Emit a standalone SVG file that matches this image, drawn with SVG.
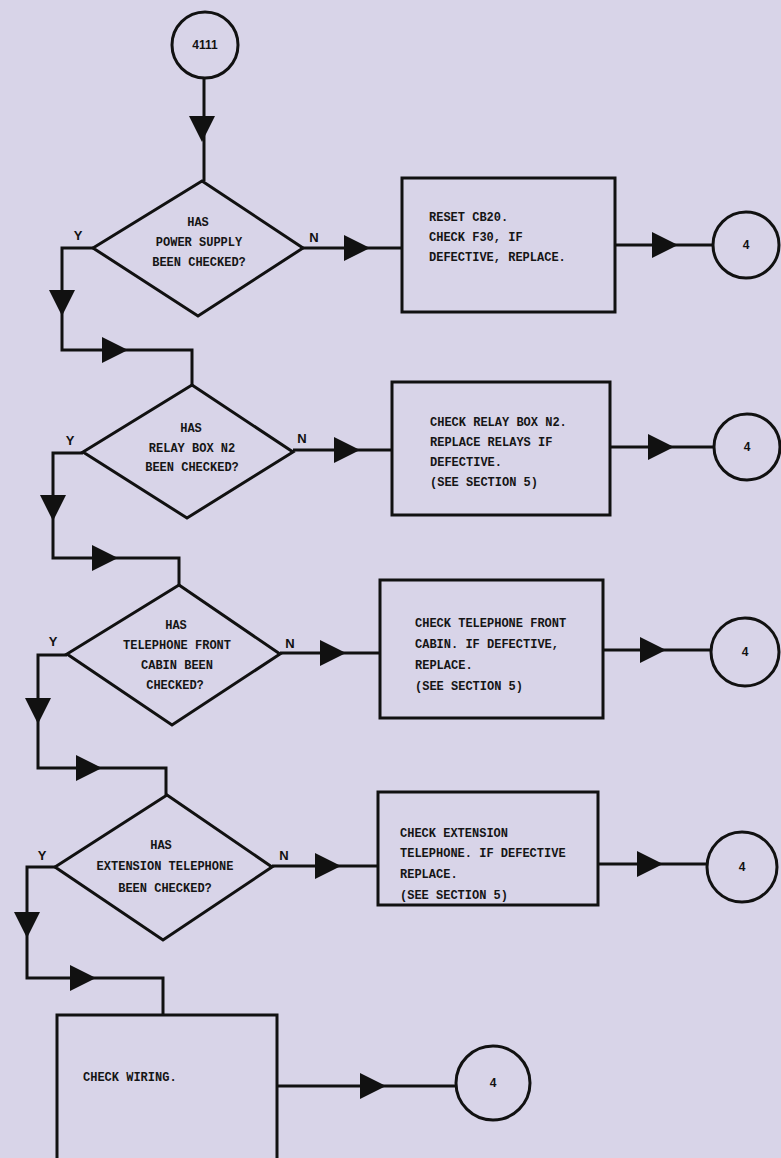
<svg xmlns="http://www.w3.org/2000/svg" xmlns:xlink="http://www.w3.org/1999/xlink" width="781" height="1158" viewBox="0 0 781 1158">
  <style>
    .bg { fill: #d8d4e8; }
    .shape { fill: none; stroke: #111; stroke-width: 3; stroke-linejoin: miter; }
    .wire { fill: none; stroke: #111; stroke-width: 3; }
    .txt { font-family: "Liberation Mono", "DejaVu Sans Mono", monospace; font-size: 12px; font-weight: bold; fill: #151515; }
    .mid { text-anchor: middle; }
    .lbl { font-family: "Liberation Sans", Arial, sans-serif; font-size: 13px; font-weight: bold; fill: #111; text-anchor: middle; }
    .num { font-family: "Liberation Sans", Arial, sans-serif; font-size: 12px; font-weight: bold; fill: #111; text-anchor: middle; }
  </style>
  <defs>
    <!-- filled arrowhead pointing right, tip at x=26 -->
    <polygon id="ar" points="0,-13 26,0 0,13" fill="#111"/>
  </defs>

  <rect class="bg" x="0" y="0" width="781" height="1158"/>

  <!-- connectors -->
  <g id="connectors">
    <!-- start to first decision -->
    <line class="wire" x1="204" y1="78" x2="204" y2="181"/>
    <use xlink:href="#ar" transform="translate(202,116) rotate(90)"/>

    <!-- decision 1 -->
    <polyline class="wire" points="93,248 62,248 62,350 192,350 192,385"/>
    <use xlink:href="#ar" transform="translate(62,290) rotate(90)"/>
    <use xlink:href="#ar" transform="translate(102,350)"/>
    <line class="wire" x1="303" y1="248" x2="402" y2="248"/>
    <use xlink:href="#ar" transform="translate(344,248)"/>
    <line class="wire" x1="615" y1="245" x2="712" y2="245"/>
    <use xlink:href="#ar" transform="translate(652,245)"/>

    <!-- decision 2 -->
    <polyline class="wire" points="83,453 53,453 53,558 179,558 179,585"/>
    <use xlink:href="#ar" transform="translate(53,495) rotate(90)"/>
    <use xlink:href="#ar" transform="translate(92,558)"/>
    <line class="wire" x1="293" y1="450" x2="392" y2="450"/>
    <use xlink:href="#ar" transform="translate(334,450)"/>
    <line class="wire" x1="610" y1="447" x2="714" y2="447"/>
    <use xlink:href="#ar" transform="translate(648,447)"/>

    <!-- decision 3 -->
    <polyline class="wire" points="67,655 38,655 38,768 166,768 166,795"/>
    <use xlink:href="#ar" transform="translate(38,698) rotate(90)"/>
    <use xlink:href="#ar" transform="translate(76,768)"/>
    <line class="wire" x1="280" y1="653" x2="380" y2="653"/>
    <use xlink:href="#ar" transform="translate(320,653)"/>
    <line class="wire" x1="603" y1="650" x2="710" y2="650"/>
    <use xlink:href="#ar" transform="translate(640,650)"/>

    <!-- decision 4 -->
    <polyline class="wire" points="55,867 27,867 27,978 163,978 163,1015"/>
    <use xlink:href="#ar" transform="translate(27,912) rotate(90)"/>
    <use xlink:href="#ar" transform="translate(70,978)"/>
    <line class="wire" x1="272" y1="866" x2="378" y2="866"/>
    <use xlink:href="#ar" transform="translate(315,866)"/>
    <line class="wire" x1="598" y1="864" x2="707" y2="864"/>
    <use xlink:href="#ar" transform="translate(637,864)"/>

    <!-- wiring check to exit -->
    <line class="wire" x1="277" y1="1086" x2="456" y2="1086"/>
    <use xlink:href="#ar" transform="translate(360,1086)"/>
  </g>

  <!-- start connector -->
  <g id="start-4111">
    <circle class="shape" cx="205" cy="45" r="33"/>
    <text class="num" x="205" y="49">4111</text>
  </g>

  <!-- decision 1 -->
  <g id="q-power-supply">
    <polygon class="shape" points="202,181 303,248 198,316 93,248"/>
    <text class="txt mid" x="198" y="226">HAS</text>
    <text class="txt mid" x="199" y="246">POWER SUPPLY</text>
    <text class="txt mid" x="199" y="266">BEEN CHECKED?</text>
    <text class="lbl" x="78" y="240">Y</text>
    <text class="lbl" x="314" y="242">N</text>
  </g>
  <g id="act-reset-cb20">
    <rect class="shape" x="402" y="178" width="213" height="134"/>
    <text class="txt" x="429" y="221">RESET CB20.</text>
    <text class="txt" x="429" y="241">CHECK F30, IF</text>
    <text class="txt" x="429" y="261">DEFECTIVE, REPLACE.</text>
  </g>
  <g id="exit-1">
    <circle class="shape" cx="746" cy="245" r="33"/>
    <text class="num" x="746" y="249">4</text>
  </g>

  <!-- decision 2 -->
  <g id="q-relay-box">
    <polygon class="shape" points="192,385 293,452 187,518 83,452"/>
    <text class="txt mid" x="191" y="432">HAS</text>
    <text class="txt mid" x="192" y="452">RELAY BOX N2</text>
    <text class="txt mid" x="192" y="471">BEEN CHECKED?</text>
    <text class="lbl" x="70" y="445">Y</text>
    <text class="lbl" x="302" y="443">N</text>
  </g>
  <g id="act-relay-box">
    <rect class="shape" x="392" y="382" width="218" height="133"/>
    <text class="txt" x="430" y="426">CHECK RELAY BOX N2.</text>
    <text class="txt" x="430" y="446">REPLACE RELAYS IF</text>
    <text class="txt" x="430" y="466">DEFECTIVE.</text>
    <text class="txt" x="430" y="486">(SEE SECTION 5)</text>
  </g>
  <g id="exit-2">
    <circle class="shape" cx="747" cy="447" r="33"/>
    <text class="num" x="747" y="451">4</text>
  </g>

  <!-- decision 3 -->
  <g id="q-front-cabin">
    <polygon class="shape" points="179,585 280,654 172,725 67,654"/>
    <text class="txt mid" x="176" y="629">HAS</text>
    <text class="txt mid" x="177" y="649">TELEPHONE FRONT</text>
    <text class="txt mid" x="177" y="669">CABIN BEEN</text>
    <text class="txt mid" x="175" y="689">CHECKED?</text>
    <text class="lbl" x="53" y="646">Y</text>
    <text class="lbl" x="290" y="648">N</text>
  </g>
  <g id="act-front-cabin">
    <rect class="shape" x="380" y="580" width="223" height="138"/>
    <text class="txt" x="415" y="627">CHECK TELEPHONE FRONT</text>
    <text class="txt" x="415" y="648">CABIN. IF DEFECTIVE,</text>
    <text class="txt" x="415" y="669">REPLACE.</text>
    <text class="txt" x="415" y="690">(SEE SECTION 5)</text>
  </g>
  <g id="exit-3">
    <circle class="shape" cx="745" cy="652" r="34"/>
    <text class="num" x="745" y="656">4</text>
  </g>

  <!-- decision 4 -->
  <g id="q-extension">
    <polygon class="shape" points="167,795 272,867 163,940 55,867"/>
    <text class="txt mid" x="161" y="849">HAS</text>
    <text class="txt mid" x="165" y="870">EXTENSION TELEPHONE</text>
    <text class="txt mid" x="165" y="892">BEEN CHECKED?</text>
    <text class="lbl" x="42" y="860">Y</text>
    <text class="lbl" x="284" y="860">N</text>
  </g>
  <g id="act-extension">
    <rect class="shape" x="378" y="792" width="220" height="113"/>
    <text class="txt" x="400" y="837">CHECK EXTENSION</text>
    <text class="txt" x="400" y="857">TELEPHONE. IF DEFECTIVE</text>
    <text class="txt" x="400" y="878">REPLACE.</text>
    <text class="txt" x="400" y="899">(SEE SECTION 5)</text>
  </g>
  <g id="exit-4">
    <circle class="shape" cx="742" cy="867" r="35"/>
    <text class="num" x="742" y="871">4</text>
  </g>

  <!-- final action -->
  <g id="act-wiring">
    <rect class="shape" x="57" y="1015" width="220" height="160"/>
    <text class="txt" x="83" y="1081">CHECK WIRING.</text>
  </g>
  <g id="exit-5">
    <circle class="shape" cx="493" cy="1083" r="37"/>
    <text class="num" x="493" y="1087">4</text>
  </g>
</svg>
